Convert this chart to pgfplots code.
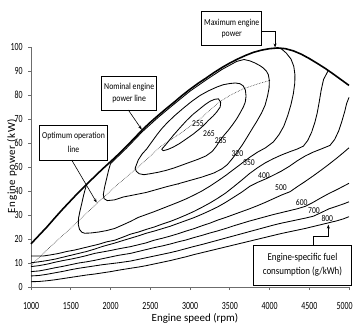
\documentclass[border=0pt]{standalone}
\usepackage{fontspec}
\setmainfont{Carlito}
\newfontfamily\tickfont[FakeStretch=0.72]{Carlito}
\newfontfamily\boxfont[FakeStretch=0.85]{Carlito}
\newfontfamily\labfont[FakeStretch=0.85]{Carlito}
\newfontfamily\ylabfont[LetterSpace=6]{Carlito}
\usepackage{pgfplots}
\pgfplotsset{compat=1.18}
\usetikzlibrary{arrows.meta}
\pgfplotsset{cont/.style={black, line width=0.85bp, no marks}}
\begin{document}
\begin{tikzpicture}
\useasboundingbox (0,0) rectangle (353bp,327bp);
\begin{axis}[
  at={(31bp,40bp)}, anchor=south west,
  scale only axis, width=318bp, height=240bp,
  xmin=1000, xmax=5000, ymin=0, ymax=100,
  axis x line*=bottom, axis y line*=left,
  axis line style={draw=gray!85!black, line width=0.9bp},
  tick align=outside, major tick length=3bp,
  tick style={draw=gray!85!black, line width=0.8bp},
  xtick={1000,1500,...,5000},
  xticklabels={1000,1500,2000,2500,3000,3500,4000,4500,{\makebox[0pt][c]{\hspace*{-9bp}5000}}},
  ytick={0,10,...,100},
  yticklabels={0,10,20,30,40,50,60,70,80,90,100},
  xticklabel style={font=\tickfont\fontsize{11}{11}\selectfont, anchor=center, inner sep=0pt, yshift=-16bp},
  yticklabel style={font=\tickfont\fontsize{11}{11}\selectfont, anchor=east, inner sep=0pt, xshift=-5.3bp},
  xlabel={Engine speed (rpm)},
  xlabel style={font=\fontsize{11}{11}\selectfont, at={(axis description cs:0.5157,-0.129)}, anchor=center},
  ylabel={Engine power (kW)},
  ylabel style={font=\ylabfont\fontsize{11}{11}\selectfont, at={(axis description cs:-0.0597,0.504)}, anchor=center},
  clip=false,
]
% maximum engine power (thick)
\addplot[black, line width=1.6bp, no marks] coordinates {
(1000,18)(1100,21.5)(1200,25)(1300,28.8)(1400,32.5)(1500,36)(1600,39.5)(1700,42.8)(1800,46)(1900,49.2)(2000,52.2)(2100,55.3)(2200,58.6)(2300,62)(2400,65.5)(2500,68.6)(2600,71.5)(2700,74.3)(2800,77)(2900,79.8)(3000,82.4)(3100,84.8)(3200,87)(3300,89.3)(3400,91.4)(3500,93.3)(3600,95)(3700,96.5)(3800,97.8)(3900,98.7)(4000,99.3)(4100,99.6)(4200,99.3)(4300,98.4)(4400,97)(4500,95.2)(4600,93.2)(4700,91.1)(4800,88.8)(4900,86.4)(5000,84)};
% optimum operation line (dotted)
\addplot[black!80, line width=0.6bp, densely dotted, no marks] coordinates {
(1000,9)(1250,17)(1500,24.5)(1818,34.5)(2100,43)(2400,51.5)(2628,58.5)(2900,64.5)(3126,70)(3357,76.8)(3500,79.8)(3671,82.6)(3850,84.6)(4006,86.1)};
% 255
\addplot[cont] coordinates {
(2644,57.4)(2700,59.5)(2790,63.2)(2870,66.2)(2958,69.4)(3040,72)(3126,74.3)(3190,76)(3252,77.4)(3310,78.2)(3357,78.4)(3386,77)(3380,75)(3336,72.9)(3290,71.2)(3231,69.4)(3180,67.6)(3126,66)(3040,63.7)(2958,61.8)(2870,59.8)(2790,58.3)(2720,57.3)(2664,56.8)(2644,57.4)};
% 265
\addplot[cont] coordinates {
(2310,49.5)(2350,53)(2400,55.5)(2455,57.5)(2520,60.5)(2581,63.3)(2640,65.8)(2707,68.2)(2800,71.2)(2916,74.5)(3020,77.3)(3126,79.8)(3230,81.7)(3336,83.3)(3420,84.3)(3504,84.8)(3570,85)(3629,84.7)(3670,83.8)(3697,82)(3705,79.5)(3695,77)(3671,75)(3630,72.5)(3588,70.1)(3535,67.6)(3482,65.3)(3430,63.3)(3378,61.1)(3330,58.6)(3280,56.5)(3200,54.6)(3100,53.2)(3000,52)(2900,50.8)(2800,49.6)(2700,48.6)(2600,47.8)(2500,47.2)(2420,46.8)(2360,47.2)(2325,48.2)(2310,49.5)};
% 285
\addplot[cont] coordinates {
(2000,51.4)(1975,48.5)(1950,45)(1925,41.5)(1910,38.5)(1920,36.8)(1960,36)(2050,36.3)(2161,37.5)(2300,38.4)(2450,39.4)(2600,40.8)(2707,41.8)(2850,43)(3000,44.4)(3150,45.8)(3300,47.5)(3400,49.2)(3470,51)(3540,53.8)(3600,56.5)(3660,59.3)(3720,62.5)(3780,65.8)(3840,69)(3900,72.5)(3944,75.7)(3975,79.5)(3995,83)(3998,86.1)(3985,88.5)(3960,90)(3920,91.3)(3881,92.2)(3820,93.3)(3755,94.2)(3680,94.8)(3588,94.0)(3400,90.6)(3200,86.2)(3000,81.6)(2800,76.2)(2600,70.7)(2400,64.7)(2200,57.8)(2000,51.4)};
% 320
\addplot[cont] coordinates {
(1700,42.8)(1680,40.5)(1660,38)(1640,35)(1615,31.5)(1597,28.5)(1595,26)(1610,24)(1640,22.8)(1675,22.4)(1750,22.5)(1850,22.9)(1950,23.5)(2053,24.4)(2150,25.8)(2250,27.3)(2350,29)(2450,30.2)(2550,31.4)(2650,32.7)(2750,34)(2850,35.3)(2950,36.7)(3050,38.3)(3150,40)(3250,42)(3350,44.2)(3450,46.5)(3550,49)(3650,51.5)(3750,54)(3850,56.2)(3950,58)(4050,60.5)(4120,63.5)(4180,67)(4230,71.5)(4270,76)(4300,80.5)(4318,85)(4320,88.5)(4305,92)(4270,95)(4210,97.5)(4140,99.5)};
% 350
\addplot[cont] coordinates {
(1000,12.9)(1150,12.9)(1250,13.4)(1350,14)(1450,14.8)(1550,15.4)(1650,16.2)(1750,17)(1850,17.8)(1950,18.8)(2053,19.5)(2150,20.7)(2250,22)(2350,22.9)(2450,24)(2550,25)(2650,26.2)(2750,27.3)(2850,28.6)(2950,30)(3050,31.5)(3150,33.2)(3250,35)(3350,37)(3450,39.2)(3550,41.8)(3650,44.5)(3750,47.3)(3850,49.7)(3950,51.8)(4050,53.5)(4150,55)(4250,56.3)(4350,57.5)(4426,58.7)(4480,61)(4530,64.5)(4570,68.5)(4600,72.5)(4625,77)(4650,82)(4680,86.5)(4741,90.3)};
% 400
\addplot[cont] coordinates {
(1000,10.1)(1100,10.5)(1200,11)(1300,11.6)(1400,12.4)(1500,13.2)(1600,14)(1700,14.8)(1801,15.8)(1900,16.9)(2053,18.3)(2150,19.3)(2250,20.3)(2350,21.3)(2450,22.4)(2550,23.3)(2650,24.3)(2750,25.3)(2850,26.5)(2950,27.7)(3050,28.9)(3150,30.3)(3250,31.8)(3350,33.4)(3450,35.3)(3550,37.4)(3650,39.5)(3754,42)(3850,43.6)(3950,45)(4050,46.6)(4150,48.3)(4250,50.3)(4350,52.6)(4450,54.6)(4550,56.2)(4650,57.5)(4761,59)(4820,61.5)(4870,65)(4910,69)(4945,73)(4971,76.5)(5000,79)};
% 500
\addplot[cont] coordinates {
(1000,8.5)(1100,8.9)(1200,9.5)(1300,10.3)(1400,11)(1500,11.6)(1600,12.3)(1700,13.1)(1800,14)(1900,14.6)(2000,15.2)(2100,15.9)(2250,16.8)(2350,17.6)(2450,18.4)(2550,19.5)(2650,20.3)(2750,21.2)(2850,22.2)(2950,23.3)(3050,24.3)(3150,25.5)(3250,26.6)(3350,27.9)(3450,29)(3550,30.2)(3650,31.4)(3750,32.6)(3850,33.9)(3950,35.3)(4050,36.8)(4150,38.3)(4258,39.7)(4350,41.8)(4450,44)(4550,46.3)(4650,48.7)(4750,51.2)(4850,53.8)(4930,56)(5000,58)};
% 600
\addplot[cont] coordinates {
(1000,6.4)(1100,6.7)(1200,7.3)(1300,8)(1400,8.6)(1500,9.3)(1600,10)(1700,10.5)(1800,11.1)(1900,11.8)(2000,12.5)(2100,13.2)(2250,14)(2350,14.8)(2450,15.6)(2550,16.4)(2650,17.1)(2750,17.9)(2850,18.8)(2950,19.6)(3050,20.6)(3150,21.5)(3250,22.5)(3350,23.4)(3450,24.4)(3550,25.5)(3650,26.5)(3750,27.5)(3850,28.4)(3950,29.3)(4050,30.2)(4150,31)(4250,31.8)(4350,32.6)(4450,33.6)(4550,35.3)(4650,37.2)(4750,39)(4850,40.6)(4930,42)(5000,43.2)};
% 700
\addplot[cont] coordinates {
(1000,4.6)(1100,4.8)(1200,5.3)(1300,5.9)(1400,6.5)(1500,7.2)(1600,7.8)(1700,8.3)(1800,8.8)(1900,9.3)(2000,9.7)(2100,10.1)(2250,10.8)(2350,11.5)(2450,12.2)(2550,12.9)(2650,13.6)(2750,14.3)(2850,15.1)(2950,16)(3050,16.9)(3150,17.7)(3250,18.6)(3350,19.5)(3450,20.4)(3550,21.3)(3650,22.2)(3750,23.1)(3850,24)(3950,24.9)(4050,25.8)(4150,26.6)(4250,27.3)(4350,28)(4450,28.7)(4552,29.5)(4650,31)(4750,32.6)(4850,33.7)(4930,34.6)(5000,35.5)};
% 800
\addplot[cont] coordinates {
(1000,2.2)(1100,2.3)(1200,2.6)(1300,3)(1400,3.5)(1500,4)(1600,4.5)(1700,5)(1800,5.4)(1900,5.9)(2000,6.4)(2100,7)(2250,7.8)(2350,8.3)(2450,8.9)(2550,9.6)(2650,10.3)(2750,11)(2850,11.8)(2950,12.6)(3050,13.5)(3150,14.3)(3250,15.1)(3350,15.9)(3450,16.7)(3550,17.5)(3650,18.3)(3750,19.1)(3850,19.9)(3950,20.7)(4050,21.5)(4150,22.3)(4250,23)(4350,23.7)(4450,24.4)(4550,25.2)(4650,26)(4750,26.8)(4850,27.6)(4930,28.4)(5000,29.3)};
% stray speck
\addplot[only marks, mark=*, mark size=0.35bp, black!70] coordinates {(2853,42.9)};
% contour labels
\begin{scope}[every node/.style={font=\labfont\fontsize{9}{9}\selectfont, inner sep=0pt}]
\node at (axis cs:3101,68) {255};
\node at (axis cs:3239,64) {265};
\node at (axis cs:3386,61) {285};
\node at (axis cs:3596,55.7) {320};
\node at (axis cs:3742,51.8) {350};
\node at (axis cs:3931,46.5) {400};
\node at (axis cs:4145,41.5) {500};
\node at (axis cs:4405,35.1) {600};
\node at (axis cs:4560,31.8) {700};
\node at (axis cs:4727,28.6) {800};
\end{scope}
% annotation boxes
\node[draw=black, line width=0.6bp, fill=white, minimum width=60bp, minimum height=33.3bp, inner sep=0pt, align=center, font=\boxfont\fontsize{9.2}{11.4}\selectfont] at (axis cs:3525,107.8) {Maximum engine\\power};
\draw[black, line width=0.6bp, -{Stealth[length=4bp,width=3bp]}] (axis cs:3902,106.4) -- (axis cs:4070,106.4) -- (axis cs:4070,99.8);
\node[draw=black, line width=0.6bp, fill=white, minimum width=55bp, minimum height=34bp, inner sep=0pt, align=center, font=\boxfont\fontsize{9.2}{11.7}\selectfont] at (axis cs:2235,80.8) {Nominal engine\\power line};
\draw[black, line width=0.6bp, -{Stealth[length=4bp,width=3bp]}] (axis cs:2224,73.75) -- (axis cs:2393,65.6);
\node[draw=black, line width=0.6bp, fill=white, minimum width=68.4bp, minimum height=34.3bp, inner sep=0pt, align=center, font=\boxfont\fontsize{9.2}{14}\selectfont] at (axis cs:1535,60.1) {Optimum operation\\line};
\draw[black, line width=0.6bp, -{Stealth[length=4bp,width=3bp]}] (axis cs:1512,52.9) -- (axis cs:1826,35.2);
\node[draw=black, line width=0.6bp, fill=white, minimum width=98.4bp, minimum height=40bp, inner sep=0pt, align=center, font=\boxfont\fontsize{10.5}{14.7}\selectfont] at (axis cs:4415,9.2) {Engine-specific fuel\\consumption (g/kWh)};
\draw[black, line width=0.6bp, -{Stealth[length=4bp,width=3bp]}] (axis cs:4551,17.5) -- (axis cs:4551,21) -- (axis cs:4740,21) -- (axis cs:4740,26);
\end{axis}
\end{tikzpicture}
\end{document}
